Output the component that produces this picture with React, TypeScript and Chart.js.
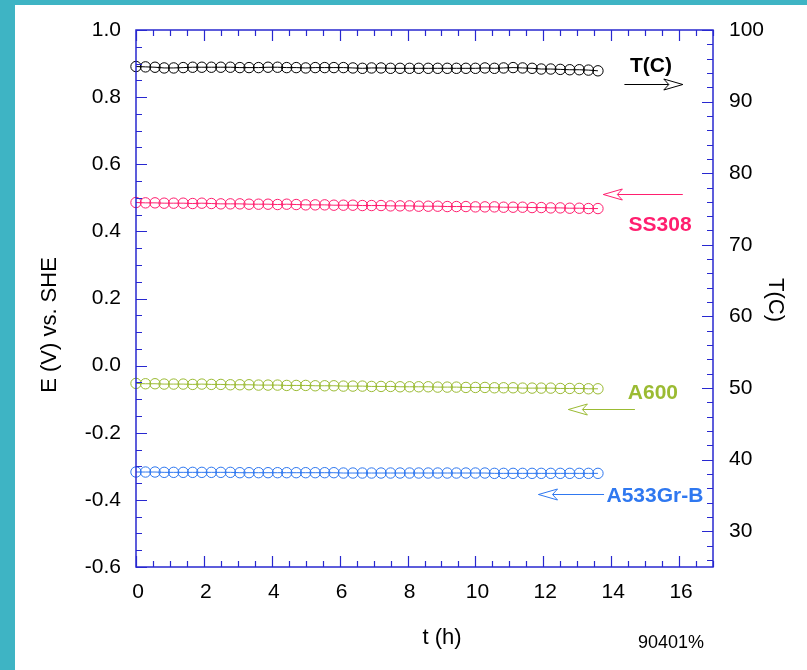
import React, { useEffect, useRef } from "react";
import { Chart, registerables } from "chart.js";

Chart.register(...registerables);

// ---- data ----
const T_HOURS = [
  0, 0.28, 0.56, 0.83, 1.11, 1.39, 1.67, 1.94, 2.22, 2.5,
  2.78, 3.06, 3.33, 3.61, 3.89, 4.17, 4.44, 4.72, 5.0, 5.28,
  5.56, 5.83, 6.11, 6.39, 6.67, 6.94, 7.22, 7.5, 7.78, 8.06,
  8.33, 8.61, 8.89, 9.17, 9.44, 9.72, 10.0, 10.28, 10.56, 10.83,
  11.11, 11.39, 11.67, 11.94, 12.22, 12.5, 12.78, 13.06, 13.33, 13.61,
];
const TEMP_C = [
  94.9, 94.85, 94.8, 94.7, 94.7, 94.75, 94.8, 94.8, 94.8, 94.8,
  94.8, 94.75, 94.75, 94.75, 94.8, 94.8, 94.75, 94.75, 94.7, 94.75,
  94.75, 94.75, 94.75, 94.7, 94.65, 94.7, 94.7, 94.65, 94.65, 94.65,
  94.65, 94.65, 94.65, 94.65, 94.65, 94.65, 94.65, 94.7, 94.65, 94.7,
  94.75, 94.7, 94.65, 94.55, 94.55, 94.5, 94.45, 94.45, 94.4, 94.3,
];
const E_SS308 = [
  0.486, 0.485, 0.485, 0.484, 0.484, 0.484, 0.483, 0.484, 0.483, 0.482,
  0.482, 0.482, 0.481, 0.481, 0.481, 0.480, 0.481, 0.480, 0.479, 0.479,
  0.479, 0.478, 0.478, 0.478, 0.477, 0.477, 0.477, 0.476, 0.476, 0.476,
  0.475, 0.475, 0.475, 0.474, 0.474, 0.474, 0.473, 0.473, 0.473, 0.472,
  0.472, 0.472, 0.471, 0.471, 0.470, 0.470, 0.469, 0.469, 0.468, 0.468,
];
const E_A600 = [
  -0.053, -0.054, -0.054, -0.055, -0.055, -0.055, -0.056, -0.055, -0.056, -0.056,
  -0.057, -0.057, -0.057, -0.058, -0.058, -0.058, -0.059, -0.059, -0.059, -0.060,
  -0.060, -0.060, -0.061, -0.061, -0.061, -0.062, -0.062, -0.062, -0.063, -0.063,
  -0.063, -0.063, -0.064, -0.064, -0.064, -0.065, -0.065, -0.065, -0.066, -0.066,
  -0.066, -0.067, -0.067, -0.067, -0.067, -0.068, -0.068, -0.068, -0.069, -0.069,
];
const E_A533 = [
  -0.317, -0.317, -0.317, -0.318, -0.318, -0.318, -0.318, -0.318, -0.318, -0.318,
  -0.318, -0.319, -0.319, -0.319, -0.319, -0.319, -0.319, -0.319, -0.319, -0.319,
  -0.319, -0.319, -0.320, -0.320, -0.320, -0.320, -0.320, -0.320, -0.320, -0.320,
  -0.320, -0.320, -0.320, -0.320, -0.320, -0.320, -0.320, -0.320, -0.321, -0.321,
  -0.321, -0.321, -0.321, -0.321, -0.321, -0.321, -0.321, -0.321, -0.321, -0.321,
];

const X_TICKS = [0, 2, 4, 6, 8, 10, 12, 14, 16];
const Y_TICKS = [-0.6, -0.4, -0.2, 0.0, 0.2, 0.4, 0.6, 0.8, 1.0];
const T_TICKS = [30, 40, 50, 60, 70, 80, 90, 100];

const X_TITLE = "t (h)";
const Y_TITLE = "E (V) vs. SHE";
const T_TITLE = "T(C)";
const FOOTNOTE = "90401%";

const COLORS = {
  temp: "#000000",
  ss308: "#ff1f6f",
  a600: "#9bbb33",
  a533: "#2f78f0",
  axis: "#2828d0",
  teal: "#3eb4c4",
};

// annotations: label centre and arrow (tail -> tip) in data coordinates (x: h, y: V)
const ANNOTATIONS = [
  { text: "T(C)", color: COLORS.temp, lx: 15.17, ly: 0.893, ax0: 14.39, ax1: 16.11, ay: 0.839 },
  { text: "SS308", color: COLORS.ss308, lx: 15.44, ly: 0.419, ax0: 16.11, ax1: 13.77, ay: 0.511 },
  { text: "A600", color: COLORS.a600, lx: 15.23, ly: -0.082, ax0: 14.7, ax1: 12.74, ay: -0.128 },
  { text: "A533Gr-B", color: COLORS.a533, lx: 15.29, ly: -0.388, ax0: 13.79, ax1: 11.86, ay: -0.383 },
];

const FONT = "'Liberation Sans', Arial, Helvetica, sans-serif";

const W = 807;
const H = 670;

const decorPlugin = {
  id: "decor",
  beforeDraw(chart: any) {
    const ctx = chart.ctx;
    ctx.save();
    ctx.fillStyle = COLORS.teal;
    ctx.fillRect(0, 0, W, H);
    ctx.fillStyle = "#ffffff";
    ctx.fillRect(15, 5, W - 15, H - 5);
    ctx.restore();
  },
  afterDraw(chart: any) {
    const ctx = chart.ctx;
    const { left, right, top, bottom } = chart.chartArea;
    const xs = chart.scales.x;
    const ys = chart.scales.y;
    const ts = chart.scales.yT;
    const MAJ = 11;
    const MIN = 6;
    ctx.save();
    ctx.strokeStyle = COLORS.axis;
    ctx.lineWidth = 1.5;
    ctx.strokeRect(left, top, right - left, bottom - top);
    ctx.lineWidth = 1.2;
    ctx.beginPath();
    // x ticks bottom & top
    for (let i = 0; i <= 34; i++) {
      const v = i * 0.5;
      const px = Math.round(xs.getPixelForValue(v)) + 0.5;
      const len = i % 4 === 0 ? MAJ : MIN;
      ctx.moveTo(px, bottom);
      ctx.lineTo(px, bottom - len);
      ctx.moveTo(px, top);
      ctx.lineTo(px, top + len);
    }
    // left y ticks
    for (let i = 0; i <= 32; i++) {
      const v = -0.6 + i * 0.05;
      const py = Math.round(ys.getPixelForValue(v)) + 0.5;
      const len = i % 4 === 0 ? MAJ : MIN;
      ctx.moveTo(left, py);
      ctx.lineTo(left + len, py);
    }
    // right T ticks
    for (let v = 26; v <= 100; v += 2) {
      const py = Math.round(ts.getPixelForValue(v)) + 0.5;
      const len = v % 10 === 0 ? MAJ : MIN;
      ctx.moveTo(right, py);
      ctx.lineTo(right - len, py);
    }
    ctx.stroke();

    // titles
    ctx.fillStyle = "#000";
    ctx.textAlign = "center";
    ctx.textBaseline = "middle";
    ctx.font = `22px ${FONT}`;
    ctx.fillText(X_TITLE, 442, 638);
    ctx.save();
    ctx.translate(50, 325);
    ctx.rotate(-Math.PI / 2);
    ctx.fillText(Y_TITLE, 0, 0);
    ctx.restore();
    ctx.save();
    ctx.translate(775, 300);
    ctx.rotate(Math.PI / 2);
    ctx.fillText(T_TITLE, 0, 0);
    ctx.restore();
    ctx.font = `18px ${FONT}`;
    ctx.fillText(FOOTNOTE, 671, 643);

    // annotations
    for (const a of ANNOTATIONS) {
      ctx.fillStyle = a.color;
      ctx.strokeStyle = a.color;
      ctx.font = `bold 21px ${FONT}`;
      ctx.fillText(a.text, xs.getPixelForValue(a.lx), ys.getPixelForValue(a.ly));
      const x0 = xs.getPixelForValue(a.ax0);
      const x1 = xs.getPixelForValue(a.ax1);
      const y = Math.round(ys.getPixelForValue(a.ay)) + 0.5;
      const dir = x1 > x0 ? 1 : -1;
      ctx.lineWidth = 1;
      ctx.beginPath();
      ctx.moveTo(x0, y);
      ctx.lineTo(x1, y);
      ctx.stroke();
      const hl = 19;
      const hw = 5.5;
      ctx.beginPath();
      ctx.moveTo(x1 - dir * hl, y - hw);
      ctx.lineTo(x1, y);
      ctx.lineTo(x1 - dir * hl, y + hw);
      ctx.lineTo(x1 - dir * (hl - 5), y);
      ctx.closePath();
      ctx.fillStyle = "#ffffff";
      ctx.fill();
      ctx.stroke();
    }
    ctx.restore();
  },
};

function series(ys: number[]) {
  return T_HOURS.map((t, i) => ({ x: t, y: ys[i] }));
}

function ds(label: string, ys: number[], color: string, axis: string) {
  return {
    label,
    data: series(ys),
    yAxisID: axis,
    borderColor: color,
    borderWidth: 1,
    pointRadius: 5.2,
    pointBorderWidth: 1,
    pointBorderColor: color,
    pointBackgroundColor: "rgba(0,0,0,0)",
    pointStyle: "circle",
    showLine: true,
    fill: false,
    tension: 0,
    clip: false as any,
  };
}

export default function App() {
  const ref = useRef<HTMLCanvasElement | null>(null);
  useEffect(() => {
    if (!ref.current) return;
    const tickFont = { family: FONT, size: 21 };
    const chart = new Chart(ref.current, {
      type: "line",
      data: {
        datasets: [
          ds("T(C)", TEMP_C, COLORS.temp, "yT"),
          ds("SS308", E_SS308, COLORS.ss308, "y"),
          ds("A600", E_A600, COLORS.a600, "y"),
          ds("A533Gr-B", E_A533, COLORS.a533, "y"),
        ] as any,
      },
      options: {
        responsive: false,
        animation: false,
        devicePixelRatio: 1,
        layout: { padding: { top: 30, left: 0, right: 0, bottom: 0 } },
        plugins: { legend: { display: false }, tooltip: { enabled: false } },
        scales: {
          x: {
            type: "linear",
            position: "bottom",
            min: 0,
            max: 17,
            grid: { display: false, drawTicks: false },
            border: { display: false },
            ticks: { font: tickFont, color: "#000", padding: 13, maxRotation: 0, labelOffset: 2 },
            afterBuildTicks: (s: any) => { s.ticks = X_TICKS.map((v) => ({ value: v })); },
            afterFit: (s: any) => { s.height = H - 567; },
          },
          y: {
            type: "linear",
            position: "left",
            min: -0.6,
            max: 1.0,
            grid: { display: false, drawTicks: false },
            border: { display: false },
            ticks: {
              font: tickFont,
              color: "#000",
              padding: 15,
              callback: (v: any) => Number(v).toFixed(1),
            },
            afterBuildTicks: (s: any) => { s.ticks = Y_TICKS.map((v) => ({ value: v })); },
            afterFit: (s: any) => { s.width = 136; },
          },
          yT: {
            type: "linear",
            position: "right",
            min: 25,
            max: 100,
            grid: { display: false, drawTicks: false },
            border: { display: false },
            ticks: { font: tickFont, color: "#000", padding: 16 },
            afterBuildTicks: (s: any) => { s.ticks = T_TICKS.map((v) => ({ value: v })); },
            afterFit: (s: any) => { s.width = W - 713; },
          },
        },
      } as any,
      plugins: [decorPlugin],
    });
    return () => chart.destroy();
  }, []);
  return (
    <div style={{ position: "fixed", left: 0, top: 0, width: W, height: H }}>
      <canvas ref={ref} width={W} height={H} style={{ display: "block", width: W, height: H }} />
    </div>
  );
}
